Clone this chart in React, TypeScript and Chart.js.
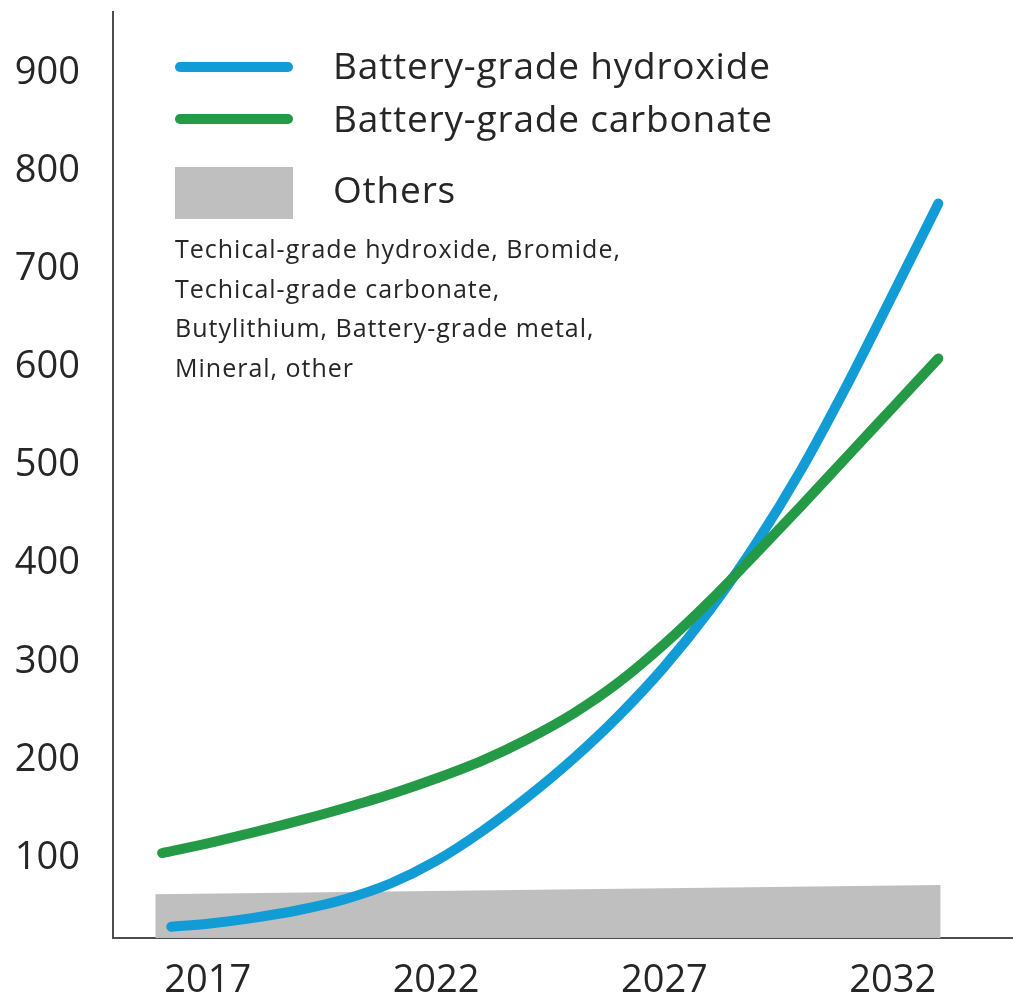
import React, { useEffect, useRef } from 'react';
import { Chart, registerables } from 'chart.js';

Chart.register(...registerables);

// Year ticks on the horizontal axis and value ticks on the vertical axis
const xTickYears = [2017, 2022, 2027, 2032];
const yTickValues = [100, 200, 300, 400, 500, 600, 700, 800, 900];

// Battery-grade hydroxide
const hydroxideYears = [2016.2, 2017, 2018, 2019, 2020, 2021, 2022, 2023, 2024, 2025, 2026, 2027, 2028, 2029, 2030, 2031, 2032, 2033];
const hydroxideValues = [30, 33, 39, 47, 58, 74, 97, 127, 162, 201, 245, 295, 353, 420, 496, 582, 674, 767];

// Battery-grade carbonate
const carbonateYears = [2016, 2017, 2018, 2019, 2020, 2021, 2022, 2023, 2024, 2025, 2026, 2027, 2028, 2029, 2030, 2031, 2032, 2033];
const carbonateValues = [105, 115, 126, 138, 151, 165, 181, 199, 221, 247, 279, 318, 362, 410, 459, 509, 559, 609];

// Others (band along the bottom)
const othersYears = [2015.85, 2033.05];
const othersValues = [63, 72.5];

const seriesLabels = ['Battery-grade hydroxide', 'Battery-grade carbonate', 'Others'];
const othersNote = [
  'Techical-grade hydroxide, Bromide,',
  'Techical-grade carbonate,',
  'Butylithium, Battery-grade metal,',
  'Mineral, other',
];

const BLUE = '#129cd6';
const GREEN = '#249a47';
const GRAY = '#bfbfbf';
const INK = '#262626';
const AXIS = '#4d4d4d';
const FONT = "'Open Sans', sans-serif";

const toPoints = (xs: number[], ys: number[]) => xs.map((x, i) => ({ x, y: ys[i] }));

// Legend block in the upper-left of the plot: two line swatches, a grey box and a note
const legendPanel = {
  id: 'legendPanel',
  afterDraw(chart: any) {
    const ctx = chart.ctx as any;
    const ds = chart.data.datasets;
    const swX0 = 175;
    const swX1 = 293;
    const textX = 333;
    ctx.save();
    ctx.lineCap = 'round';
    ctx.lineWidth = 10;
    ctx.textBaseline = 'alphabetic';
    ctx.textAlign = 'left';
    [[0, 67, 79], [1, 119, 132]].forEach(([i, y, base]) => {
      ctx.strokeStyle = ds[i].borderColor;
      ctx.beginPath();
      ctx.moveTo(swX0 + 5, y);
      ctx.lineTo(swX1 - 5, y);
      ctx.stroke();
      ctx.fillStyle = INK;
      ctx.font = `37px ${FONT}`;
      ctx.letterSpacing = '0.8px';
      ctx.fillText(ds[i].label, textX, base);
    });
    ctx.fillStyle = ds[2].backgroundColor;
    ctx.fillRect(swX0, 167, swX1 - swX0, 52);
    ctx.fillStyle = INK;
    ctx.font = `37px ${FONT}`;
    ctx.letterSpacing = '0.8px';
    ctx.fillText(ds[2].label, textX, 203);
    ctx.font = `25px ${FONT}`;
    ctx.letterSpacing = '1px';
    othersNote.forEach((line, i) => {
      ctx.fillText(line, swX0, 258 + i * 39.5);
    });
    ctx.restore();
  },
};

export default function App() {
  const canvasRef = useRef<HTMLCanvasElement | null>(null);

  useEffect(() => {
    if (!canvasRef.current) return;
    const chart = new Chart(canvasRef.current, {
      type: 'line',
      data: {
        datasets: [
          {
            label: seriesLabels[0],
            data: toPoints(hydroxideYears, hydroxideValues),
            borderColor: BLUE,
            borderWidth: 10,
            borderCapStyle: 'round',
            borderJoinStyle: 'round',
            cubicInterpolationMode: 'monotone',
            pointRadius: 0,
            fill: false,
            order: 1,
          },
          {
            label: seriesLabels[1],
            data: toPoints(carbonateYears, carbonateValues),
            borderColor: GREEN,
            borderWidth: 10,
            borderCapStyle: 'round',
            borderJoinStyle: 'round',
            cubicInterpolationMode: 'monotone',
            pointRadius: 0,
            fill: false,
            order: 0,
          },
          {
            label: seriesLabels[2],
            data: toPoints(othersYears, othersValues),
            borderColor: GRAY,
            backgroundColor: GRAY,
            borderWidth: 0,
            pointRadius: 0,
            tension: 0,
            fill: 'start',
            order: 2,
          },
        ],
      } as any,
      options: {
        animation: false,
        responsive: true,
        maintainAspectRatio: false,
        layout: { padding: { top: 12, left: 0, right: 0, bottom: 0 } },
        plugins: {
          legend: { display: false },
          tooltip: { enabled: false },
        },
        scales: {
          x: {
            type: 'linear',
            min: 2014.924,
            max: 2034.635,
            grid: { display: false, drawTicks: false },
            border: { display: true, color: AXIS, width: 2 },
            ticks: {
              color: INK,
              font: { family: FONT, size: 38 },
              padding: 20,
              maxRotation: 0,
              callback: (v: any) => String(v),
            },
            afterBuildTicks: (scale: any) => {
              scale.ticks = xTickYears.map((value) => ({ value }));
            },
            afterFit: (scale: any) => {
              scale.height = 57;
              scale.paddingLeft = 0;
              scale.paddingRight = 0;
            },
          },
          y: {
            type: 'linear',
            min: 18.45,
            max: 962.1,
            grid: { display: false, drawTicks: false },
            border: { display: true, color: AXIS, width: 2 },
            ticks: {
              color: INK,
              font: { family: FONT, size: 38 },
              padding: 33,
              callback: (v: any) => String(v),
            },
            afterBuildTicks: (scale: any) => {
              scale.ticks = yTickValues.map((value) => ({ value }));
            },
            afterFit: (scale: any) => {
              scale.width = 113;
              scale.paddingTop = 0;
              scale.paddingBottom = 0;
            },
          },
        },
      } as any,
      plugins: [legendPanel],
    });
    return () => chart.destroy();
  }, []);

  return (
    <div style={{ position: 'absolute', left: 0, top: 0, width: 1013, height: 995, background: '#fff' }}>
      <canvas ref={canvasRef} />
    </div>
  );
}
